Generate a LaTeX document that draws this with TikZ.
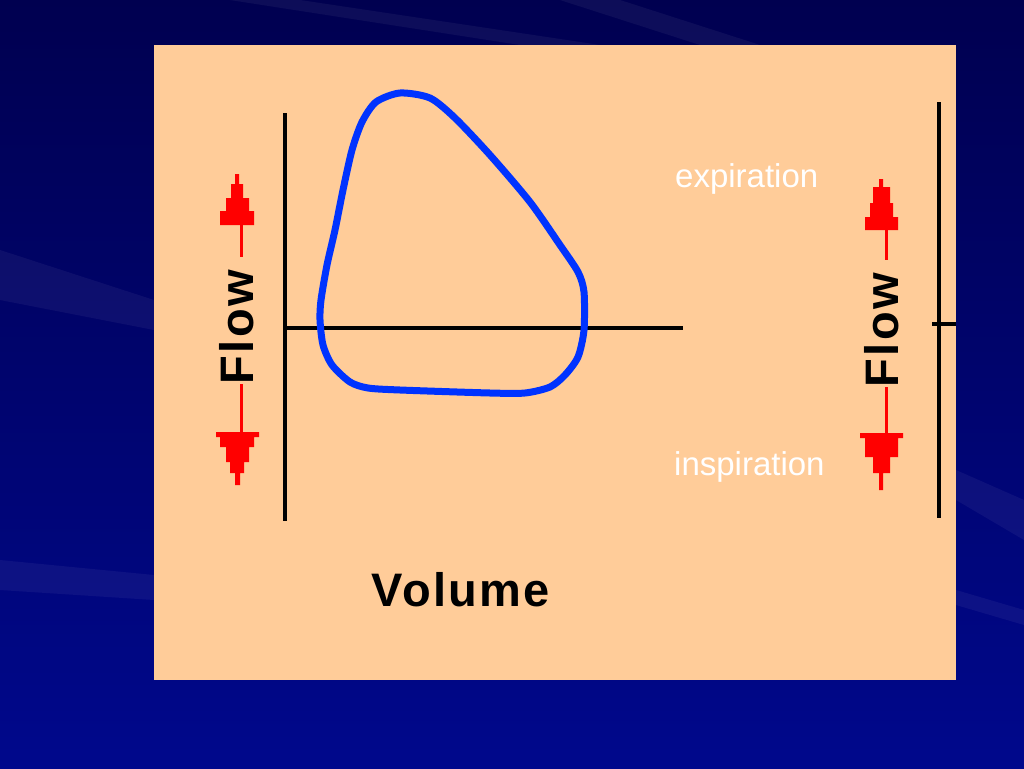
\documentclass[tikz,border=0pt]{standalone}
\usepackage{fontspec}
\setmainfont{Liberation Sans}
\usepackage{tikz}
\usetikzlibrary{positioning}
\definecolor{slideblue}{RGB}{0,8,140}
\definecolor{slidedark}{RGB}{0,0,80}
\definecolor{peach}{RGB}{255,204,153}
\definecolor{loopblue}{RGB}{0,51,255}
\definecolor{arrowred}{RGB}{255,0,0}
\tikzset{%
	axis/.style     = {draw, line width=3.5pt},
	loopline/.style = {draw=loopblue, line width=7pt},
	shaft/.style    = {draw=arrowred, line width=3pt},
	head/.style     = {fill=arrowred},
	pixlabel/.style = {font=\fontsize{47}{50}\selectfont\bfseries\addfontfeature{LetterSpace=5}, text=black, inner sep=0pt},
	phase/.style    = {font=\fontsize{33}{38}\selectfont, text=white, inner sep=0pt, anchor=base west},
	ray/.style      = {fill=white, opacity=0.05},
}

\begin{document}
\begin{tikzpicture}[x=1pt,y=-1pt]
	% slide background
	\shade[top color=slidedark, bottom color=slideblue] (0,0) rectangle (1024,768);
	\useasboundingbox (0,0) rectangle (1024,768);
	\fill[ray] (230,0) -- (300,0) -- (600,45) -- (520,45) -- cycle;
	\fill[ray] (560,0) -- (620,0) -- (760,45) -- (700,45) -- cycle;
	\fill[ray] (0,250) -- (154,300) -- (154,330) -- (0,300) -- cycle;
	\fill[ray] (0,560) -- (154,575) -- (154,600) -- (0,590) -- cycle;
	\fill[ray] (956,470) -- (1024,500) -- (1024,540) -- (956,500) -- cycle;
	\fill[ray] (956,590) -- (1024,610) -- (1024,625) -- (956,605) -- cycle;
	\fill[peach] (154,45) rectangle (956,680);

	% axes
	\coordinate (ytop) at (285,113);
	\coordinate (ybot) at (285,521);
	\coordinate (xleft) at (285,328);
	\coordinate (xright) at (683,328);
	\coordinate (rtop) at (939,102);
	\coordinate (rbot) at (939,518);
	\coordinate (tickl) at (932,324);
	\coordinate (tickr) at (956,324);
	\draw[axis] (ytop) -- (ybot);
	\draw[axis] (xleft) -- (xright);
	\draw[axis] (rtop) -- (rbot);
	\draw[axis] (tickl) -- (tickr);

	% flow-volume loop
	\draw[loopline] plot[smooth cycle, tension=0.45] coordinates {
		(400,93) (430,98) (455,118) (490,155) (530,202) (560,245) (578,272)
		(584,292) (584,330) (578,357) (565,375) (550,387) (525,393)
		(490,393) (400,390) (368,388) (350,382) (332,365) (323,345)
		(320,320) (321,300) (327,265) (335,230) (343,190) (352,150)
		(362,122) (376,102)};

	% labels
	\node[pixlabel] (volume) at (461,606) [anchor=base] {Volume};
	\node[pixlabel, rotate=90, anchor=base] (flowl) at (253,327) {Flow};
	\node[pixlabel, rotate=90, anchor=base] (flowr) at (898,330) {Flow};
	\node[phase] (exp) at (675,187) {expiration};
	\node[phase] (insp) at (674,475) {inspiration};

	% red arrows, left
	\draw[shaft, shorten >=13pt] (241,225) -- (flowl.east -| 241,0);
	\draw[shaft] (flowl.west -| 241,0) -- (241,432);
	\fill[head] (235,174) -| (239,184) -| (243,198) -| (249,211) -| (254,225)
		-- (220,225) |- (226,211) |- (231,198) |- (235,184) -- cycle;
	\fill[head] (216,432) -- (259,432) |- (254,437) |- (249,447) |- (244,462)
		|- (240,473) |- (235,485) |- (230,473) |- (226,462) |- (220,447)
		|- (216,437) -- cycle;

	% red arrows, right
	\draw[shaft, shorten >=13pt] (886,230) -- (flowr.east -| 886,0);
	\draw[shaft] (flowr.west -| 886,0) -- (886,433);
	\fill[head] (879,179) -| (883,187) -| (890,203) -| (893,217) -| (898,230)
		-- (865,230) |- (870,217) |- (873,203) |- (879,187) -- cycle;
	\fill[head] (860,433) -- (903,433) |- (898,438) |- (890,457) |- (883,473)
		|- (879,490) |- (873,473) |- (865,457) |- (860,438) -- cycle;
\end{tikzpicture}
\end{document}
